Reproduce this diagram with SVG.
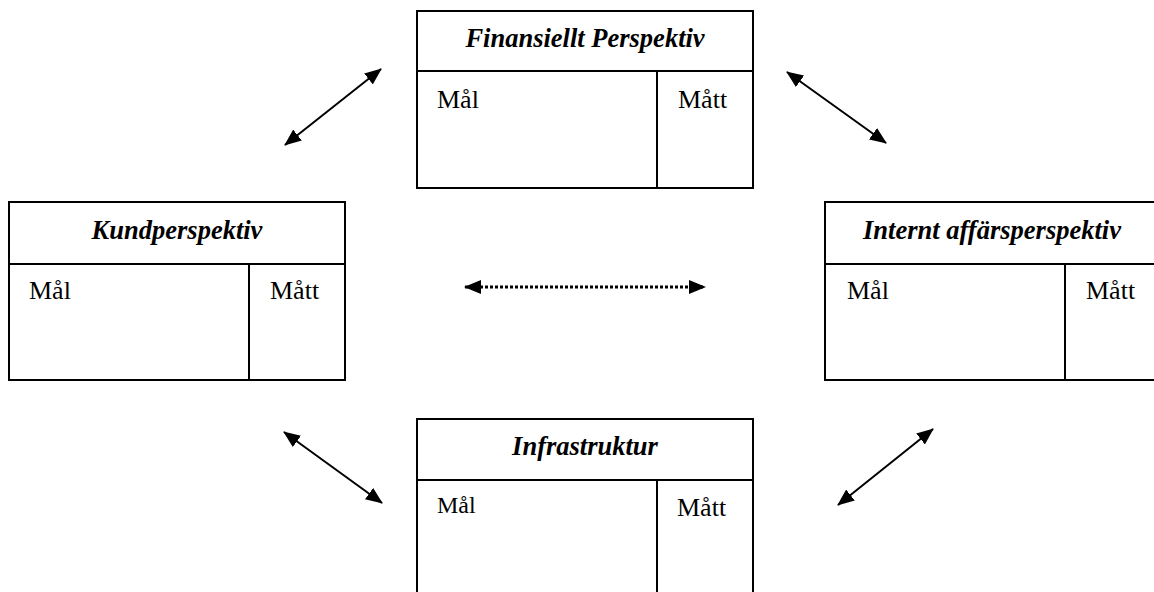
<svg xmlns="http://www.w3.org/2000/svg" width="1154" height="592" viewBox="0 0 1154 592">
<style>
.box{fill:#fff;stroke:#000;stroke-width:2}
.ln{stroke:#000;stroke-width:2;fill:none}
.title{font-family:"Liberation Serif","Times New Roman",serif;font-size:26.5px;font-weight:bold;font-style:italic;text-anchor:middle;fill:#000}
.lbl{font-family:"Liberation Serif","Times New Roman",serif;font-size:26px;fill:#000}
.conn{stroke:#000;stroke-width:2;fill:none;marker-start:url(#ah);marker-end:url(#ah)}
.dot{stroke-dasharray:3 2;stroke-width:3}
</style>
<defs>
<marker id="ah" viewBox="0 0 17 14" refX="16" refY="7" markerWidth="17" markerHeight="14" markerUnits="userSpaceOnUse" orient="auto-start-reverse">
<path d="M0,0 L17,7 L0,14 z" fill="#000"/>
</marker>
</defs>
<rect width="1154" height="592" fill="#fff"/>
<g id="finansiellt">
<rect class="box" x="417" y="11" width="336" height="177"/>
<line class="ln" x1="417" y1="71" x2="753" y2="71"/>
<line class="ln" x1="657" y1="71" x2="657" y2="188"/>
<text class="title" x="585" y="47">Finansiellt Perspektiv</text>
<text class="lbl" x="437" y="108">Mål</text>
<text class="lbl" x="678" y="108">Mått</text>
</g>
<g id="kund">
<rect class="box" x="9" y="202" width="336" height="178"/>
<line class="ln" x1="9" y1="264" x2="345" y2="264"/>
<line class="ln" x1="249" y1="264" x2="249" y2="380"/>
<text class="title" x="177" y="239">Kundperspektiv</text>
<text class="lbl" x="29" y="299">Mål</text>
<text class="lbl" x="270" y="299">Mått</text>
</g>
<g id="internt">
<rect class="box" x="825" y="202" width="335" height="178"/>
<line class="ln" x1="825" y1="264" x2="1160" y2="264"/>
<line class="ln" x1="1065" y1="264" x2="1065" y2="380"/>
<text class="title" x="992" y="239">Internt affärsperspektiv</text>
<text class="lbl" x="847" y="299">Mål</text>
<text class="lbl" x="1086" y="299">Mått</text>
</g>
<g id="infrastruktur">
<rect class="box" x="417" y="419" width="336" height="190"/>
<line class="ln" x1="417" y1="480" x2="753" y2="480"/>
<line class="ln" x1="657" y1="480" x2="657" y2="600"/>
<text class="title" x="585" y="455">Infrastruktur</text>
<text class="lbl" x="437" y="513" style="font-size:24px">Mål</text>
<text class="lbl" x="677" y="516">Mått</text>
</g>
<g id="connectors">
<line class="conn" x1="285" y1="145" x2="381" y2="69"/>
<line class="conn" x1="787" y1="72" x2="886" y2="143"/>
<line class="conn dot" x1="465" y1="287" x2="705" y2="287"/>
<line class="conn" x1="284" y1="432" x2="382" y2="503"/>
<line class="conn" x1="838" y1="505" x2="933" y2="429"/>
</g>
</svg>
